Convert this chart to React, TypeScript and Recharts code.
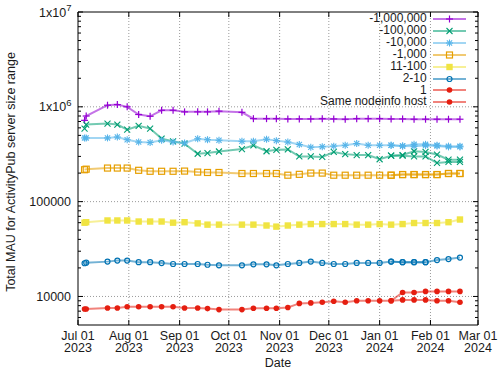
import { LineChart, Line, XAxis, YAxis, CartesianGrid, Legend } from 'recharts';

const FONT = '"Liberation Sans", Arial, sans-serif';

const DATES = [
  '2023-07-05', '2023-07-06', '2023-07-19', '2023-07-25', '2023-07-31', '2023-08-07', '2023-08-14',
  '2023-08-21', '2023-08-28', '2023-09-04', '2023-09-12', '2023-09-18', '2023-09-25', '2023-10-09',
  '2023-10-16', '2023-10-24', '2023-10-30', '2023-11-06', '2023-11-13', '2023-11-20', '2023-11-27',
  '2023-12-04', '2023-12-11', '2023-12-18', '2023-12-25', '2024-01-01', '2024-01-08', '2024-01-15',
  '2024-01-22', '2024-01-29', '2024-02-05', '2024-02-12', '2024-02-19',
];

const MONTH_TICKS = [
  '2023-07-01', '2023-08-01', '2023-09-01', '2023-10-01', '2023-11-01',
  '2023-12-01', '2024-01-01', '2024-02-01', '2024-03-01',
];
const MONTHS = ['Jan', 'Feb', 'Mar', 'Apr', 'May', 'Jun', 'Jul', 'Aug', 'Sep', 'Oct', 'Nov', 'Dec'];

const Y_MAJOR = [10000, 100000, 1000000, 10000000];
const Y_MINOR = [
  6000, 7000, 8000, 9000,
  20000, 30000, 40000, 50000, 60000, 70000, 80000, 90000,
  200000, 300000, 400000, 500000, 600000, 700000, 800000, 900000,
  2000000, 3000000, 4000000, 5000000, 6000000, 7000000, 8000000, 9000000,
];

const _ = null;

const MAU_1M = [
  720000, 800000, 1040000, 1055000, 1000000, 830000, 795000, 920000, 920000, 885000, 885000,
  885000, 900000, 875000, 750000, 750000, 750000, 745000, 745000, 745000, 750000, 745000,
  740000, 750000, 750000, 750000, 745000, 745000, 740000, 740000, 740000, 740000, 740000,
];
const MAU_100K = [
  590000, 650000, 665000, 650000, 575000, 630000, 590000, 462000, 433000, 409000, 320000,
  325000, 338000, 358000, 393000, 340000, 352000, 355000, 300000, 300000, 296000, 334000,
  317000, 310000, 310000, 280000, 305000, 310000, 340000, 334000, 314000, 277000, 277000,
];
const MAU_100K_B = [
  _, _, _, _, _, _, _, _, _, _, _, _, _, _, _, _, _, _, _, _, _, _, _, _, _, _,
  305000, 305000, 300000, 300000, 256000, 262000, 262000,
];
const MAU_10K = [
  470000, 470000, 470000, 480000, 450000, 425000, 420000, 444000, 425000, 415000, 460000,
  450000, 444000, 433000, 433000, 455000, 440000, 425000, 400000, 375000, 380000, 385000,
  393000, 410000, 393000, 393000, 393000, 387000, 402000, 402000, 393000, 385000, 385000,
];
const MAU_10K_B = [
  _, _, _, _, _, _, _, _, _, _, _, _, _, _, _, _, _, _, _, _, _, _, _, _, _, _,
  393000, 387000, 385000, 390000, 387000, 378000, 378000,
];
const MAU_1K = [
  217000, 220000, 226000, 226000, 226000, 214000, 209000, 209000, 209000, 210000, 205000,
  203000, 203000, 198000, 198000, 198000, 198000, 190000, 194000, 200000, 200000, 190000,
  190000, 190000, 190000, 190000, 190000, 193000, 193000, 193000, 193000, 198000, 198000,
];
const MAU_1K_B = [
  _, _, _, _, _, _, _, _, _, _, _, _, _, _, _, _, _, _, _, _, _, _, _, _, _, _,
  190000, 193000, 193000, 193000, 193000, 198000, 198000,
];
const MAU_11_100 = [
  60000, 60700, 63300, 63300, 63300, 61700, 61700, 61700, 60000, 60700, 59000,
  57200, 57200, 57200, 57200, 56000, 54500, 56000, 57200, 58000, 58000, 58000,
  58000, 57200, 57200, 58000, 57200, 58000, 59500, 59500, 59500, 60700, 64800,
];
const MAU_2_10 = [
  22400, 22700, 23300, 23900, 23900, 23000, 23000, 22500, 22000, 22000, 22000,
  21600, 21300, 21300, 21800, 21800, 21300, 22000, 22600, 23300, 22600, 22000,
  22000, 22600, 22600, 22600, 23300, 23000, 23000, 23000, 24200, 24800, 25700,
];
const MAU_2_10_B = [
  _, _, _, _, _, _, _, _, _, _, _, _, _, _, _, _, _, _, _, _, _, _, _, _, _, _,
  23300, 23000, 23000, 23000, _, _, _,
];
const MAU_1 = [
  7380, 7380, 7550, 7550, 7800, 7800, 7800, 7800, 7800, 7550, 7550,
  7450, 7270, 7270, 7500, 7500, 7500, 7650, 8450, 8550, 8700, 8900,
  8700, 9000, 9000, 9000, 9000, 9200, 9200, 9200, 9000, 9000, 8700,
];
const MAU_SAME_HOST = [
  _, _, _, _, _, _, _, _, _, _, _, _, _, _, _, _, _, _, _, _, _, _, _, _, _, _,
  9000, 11000, 11000, 11300, 11300, 11300, 11300,
];

type Shape = 'plus' | 'cross' | 'star' | 'square' | 'fsquare' | 'circle' | 'fcircle';

const SERIES = [
  { key: 'm1m', name: '-1,000,000', color: '#9400d3', shape: 'plus' as Shape, values: MAU_1M },
  { key: 'm100k', name: '-100,000', color: '#009e73', shape: 'cross' as Shape, values: MAU_100K },
  { key: 'm10k', name: '-10,000', color: '#56b4e9', shape: 'star' as Shape, values: MAU_10K },
  { key: 'm1k', name: '-1,000', color: '#e69f00', shape: 'square' as Shape, values: MAU_1K },
  { key: 'm100', name: '11-100', color: '#f0e442', shape: 'fsquare' as Shape, values: MAU_11_100 },
  { key: 'm10', name: '2-10', color: '#0072b2', shape: 'circle' as Shape, values: MAU_2_10 },
  { key: 'm1', name: '1', color: '#e51e10', shape: 'fcircle' as Shape, values: MAU_1 },
  { key: 'same', name: 'Same nodeinfo host', color: '#e51e10', shape: 'fcircle' as Shape, values: MAU_SAME_HOST },
];

// second runs of the same ranges (overlapping snapshots), not in the key
const EXTRA = [
  { key: 'm100kB', color: '#009e73', shape: 'cross' as Shape, values: MAU_100K_B },
  { key: 'm10kB', color: '#56b4e9', shape: 'star' as Shape, values: MAU_10K_B },
  { key: 'm1kB', color: '#e69f00', shape: 'square' as Shape, values: MAU_1K_B },
  { key: 'm10B', color: '#0072b2', shape: 'circle' as Shape, values: MAU_2_10_B },
];

const toTime = (s: string) => {
  const [y, m, d] = s.split('-').map(Number);
  return Date.UTC(y, m - 1, d);
};

const X_TICKS = MONTH_TICKS.map(toTime);
const X_DOMAIN = [X_TICKS[0], X_TICKS[X_TICKS.length - 1]];
const Y_DOMAIN = [5000, 10000000];
const Y_TICKS = [...Y_MAJOR, ...Y_MINOR].sort((a, b) => a - b);

const data = DATES.map((d, i) => {
  const row: Record<string, number | null> = { t: toTime(d) };
  [...SERIES, ...EXTRA].forEach((s) => {
    row[s.key] = s.values[i];
  });
  return row;
});

const AXIS = '#000';
const TEXT = '#1a1a1a';

function Marker({ shape, color, cx, cy }: { shape: Shape; color: string; cx: number; cy: number }) {
  const r = 3.5;
  switch (shape) {
    case 'plus':
      return (
        <g stroke={color} strokeWidth={1.2}>
          <line x1={cx - r} x2={cx + r} y1={cy} y2={cy} />
          <line x1={cx} x2={cx} y1={cy - r} y2={cy + r} />
        </g>
      );
    case 'cross':
      return (
        <g stroke={color} strokeWidth={1.1}>
          <line x1={cx - 3} x2={cx + 3} y1={cy - 3} y2={cy + 3} />
          <line x1={cx - 3} x2={cx + 3} y1={cy + 3} y2={cy - 3} />
        </g>
      );
    case 'star':
      return (
        <g stroke={color} strokeWidth={1.1}>
          <line x1={cx - r} x2={cx + r} y1={cy} y2={cy} />
          <line x1={cx} x2={cx} y1={cy - r} y2={cy + r} />
          <line x1={cx - 2.6} x2={cx + 2.6} y1={cy - 2.6} y2={cy + 2.6} />
          <line x1={cx - 2.6} x2={cx + 2.6} y1={cy + 2.6} y2={cy - 2.6} />
        </g>
      );
    case 'square':
      return <rect x={cx - 3} y={cy - 3} width={6} height={6} fill="none" stroke={color} strokeWidth={1.2} />;
    case 'fsquare':
      return <rect x={cx - 3.2} y={cy - 3.2} width={6.4} height={6.4} fill={color} />;
    case 'circle':
      return <circle cx={cx} cy={cy} r={2.5} fill="none" stroke={color} strokeWidth={1.2} />;
    default:
      return <circle cx={cx} cy={cy} r={2.8} fill={color} />;
  }
}

const makeDot = (shape: Shape, color: string) => (p: any) => {
  const k = `${shape}-${color}-${p.index}`;
  if (p.value == null || p.cx == null || p.cy == null) return <g key={k} />;
  return (
    <g key={k}>
      <Marker shape={shape} color={color} cx={p.cx} cy={p.cy} />
    </g>
  );
};

const fmtMonth = (v: number) => {
  const d = new Date(v);
  return `${MONTHS[d.getUTCMonth()]} ${String(d.getUTCDate()).padStart(2, '0')}`;
};

function BottomTick({ x, y, payload }: any) {
  const d = new Date(payload.value);
  return (
    <g>
      <line x1={x} x2={x} y1={y} y2={y - 5} stroke={AXIS} />
      <text x={x} y={y + 14.5} textAnchor="middle" fontSize={12.5} fontFamily={FONT} fill={TEXT}>
        {fmtMonth(payload.value)}
      </text>
      <text x={x} y={y + 26.7} textAnchor="middle" fontSize={12.5} fontFamily={FONT} fill={TEXT}>
        {d.getUTCFullYear()}
      </text>
    </g>
  );
}

function TopTick({ x, y }: any) {
  return <line x1={x} x2={x} y1={y} y2={y + 5} stroke={AXIS} />;
}

function LeftTick({ x, y, payload }: any) {
  const v = payload.value;
  const major = Y_MAJOR.includes(v);
  let label = null;
  if (major) {
    label =
      v >= 1000000 ? (
        <text x={x - 6.5} y={y + 4.5} textAnchor="end" fontSize={12.5} fontFamily={FONT} fill={TEXT}>
          1x10
          <tspan dy={-5.5} fontSize={9.5}>
            {Math.round(Math.log10(v))}
          </tspan>
        </text>
      ) : (
        <text x={x - 7} y={y + 4.5} textAnchor="end" fontSize={12.5} fontFamily={FONT} fill={TEXT}>
          {v}
        </text>
      );
  }
  return (
    <g>
      <line x1={x} x2={x + (major ? 5 : 3)} y1={y} y2={y} stroke={AXIS} />
      {label}
    </g>
  );
}

function RightTick({ x, y, payload }: any) {
  const major = Y_MAJOR.includes(payload.value);
  return <line x1={x} x2={x - (major ? 5 : 3)} y1={y} y2={y} stroke={AXIS} />;
}

function YTitle({ viewBox }: any) {
  const cx = viewBox.x + 15;
  const cy = viewBox.y + viewBox.height / 2 + 3.5;
  return (
    <text x={cx} y={cy} transform={`rotate(-90 ${cx} ${cy})`} textAnchor="middle" fontSize={12.5} fontFamily={FONT} fill={TEXT}>
      Total MAU for ActivityPub server size range
    </text>
  );
}

function XTitle({ viewBox }: any) {
  return (
    <text x={viewBox.x + viewBox.width / 2} y={viewBox.y + 42} textAnchor="middle" fontSize={12.5} fontFamily={FONT} fill={TEXT}>
      Date
    </text>
  );
}

function KeyBox() {
  return (
    <div style={{ fontFamily: FONT, fontSize: 12, color: TEXT }}>
      {SERIES.map((s) => (
        <div key={s.key} style={{ display: 'flex', alignItems: 'center', justifyContent: 'flex-end', height: 11.86 }}>
          <span style={{ lineHeight: '11.86px', whiteSpace: 'nowrap' }}>{s.name}</span>
          <svg width={33} height={10} style={{ marginLeft: 6, display: 'block' }}>
            <line x1={0} x2={33} y1={5} y2={5} stroke={s.color} strokeOpacity={0.55} strokeWidth={2} />
            <Marker shape={s.shape} color={s.color} cx={16.5} cy={5} />
          </svg>
        </div>
      ))}
    </div>
  );
}

export default function App() {
  return (
    <div style={{ position: 'absolute', left: 0, top: 0, width: 500, height: 375, background: '#fff' }}>
      <LineChart width={500} height={375} data={data} margin={{ top: 0, right: 0, bottom: 0, left: 0 }}>
        <CartesianGrid
          horizontalValues={[10000, 100000, 1000000]}
          verticalValues={X_TICKS.slice(1, -1)}
          stroke="#9a9a9a"
          strokeDasharray="1 2"
        />
        <XAxis
          dataKey="t"
          type="number"
          scale="time"
          domain={X_DOMAIN}
          ticks={X_TICKS}
          interval={0}
          height={50}
          tickSize={0}
          tickMargin={0}
          tickLine={false}
          tick={BottomTick}
          axisLine={{ stroke: AXIS }}
          label={<XTitle />}
        />
        <XAxis
          xAxisId="top"
          dataKey="t"
          orientation="top"
          type="number"
          scale="time"
          domain={X_DOMAIN}
          ticks={X_TICKS}
          interval={0}
          height={12}
          tickSize={0}
          tickMargin={0}
          tickLine={false}
          tick={TopTick}
          axisLine={{ stroke: AXIS }}
        />
        <YAxis
          type="number"
          scale="log"
          domain={Y_DOMAIN}
          allowDataOverflow
          ticks={Y_TICKS}
          interval={0}
          width={78}
          tickSize={0}
          tickMargin={0}
          tickLine={false}
          tick={LeftTick}
          axisLine={{ stroke: AXIS }}
          label={<YTitle />}
        />
        <YAxis
          yAxisId="right"
          orientation="right"
          type="number"
          scale="log"
          domain={Y_DOMAIN}
          allowDataOverflow
          ticks={Y_TICKS}
          interval={0}
          width={22}
          tickSize={0}
          tickMargin={0}
          tickLine={false}
          tick={RightTick}
          axisLine={{ stroke: AXIS }}
        />
        <Legend
          layout="vertical"
          align="center"
          verticalAlign="middle"
          content={() => <KeyBox />}
          wrapperStyle={{ top: 13.4, right: 34.3, left: 'auto', bottom: 'auto', width: 'auto' }}
        />
        {SERIES.map((s) => (
          <Line
            key={s.key}
            type="linear"
            dataKey={s.key}
            name={s.name}
            stroke={s.color}
            strokeOpacity={0.55}
            strokeWidth={2}
            dot={makeDot(s.shape, s.color)}
            activeDot={false}
            isAnimationActive={false}
          />
        ))}
        {EXTRA.map((s) => (
          <Line
            key={s.key}
            type="linear"
            dataKey={s.key}
            stroke={s.color}
            strokeOpacity={0.55}
            strokeWidth={2}
            dot={makeDot(s.shape, s.color)}
            activeDot={false}
            legendType="none"
            isAnimationActive={false}
          />
        ))}
      </LineChart>
    </div>
  );
}
